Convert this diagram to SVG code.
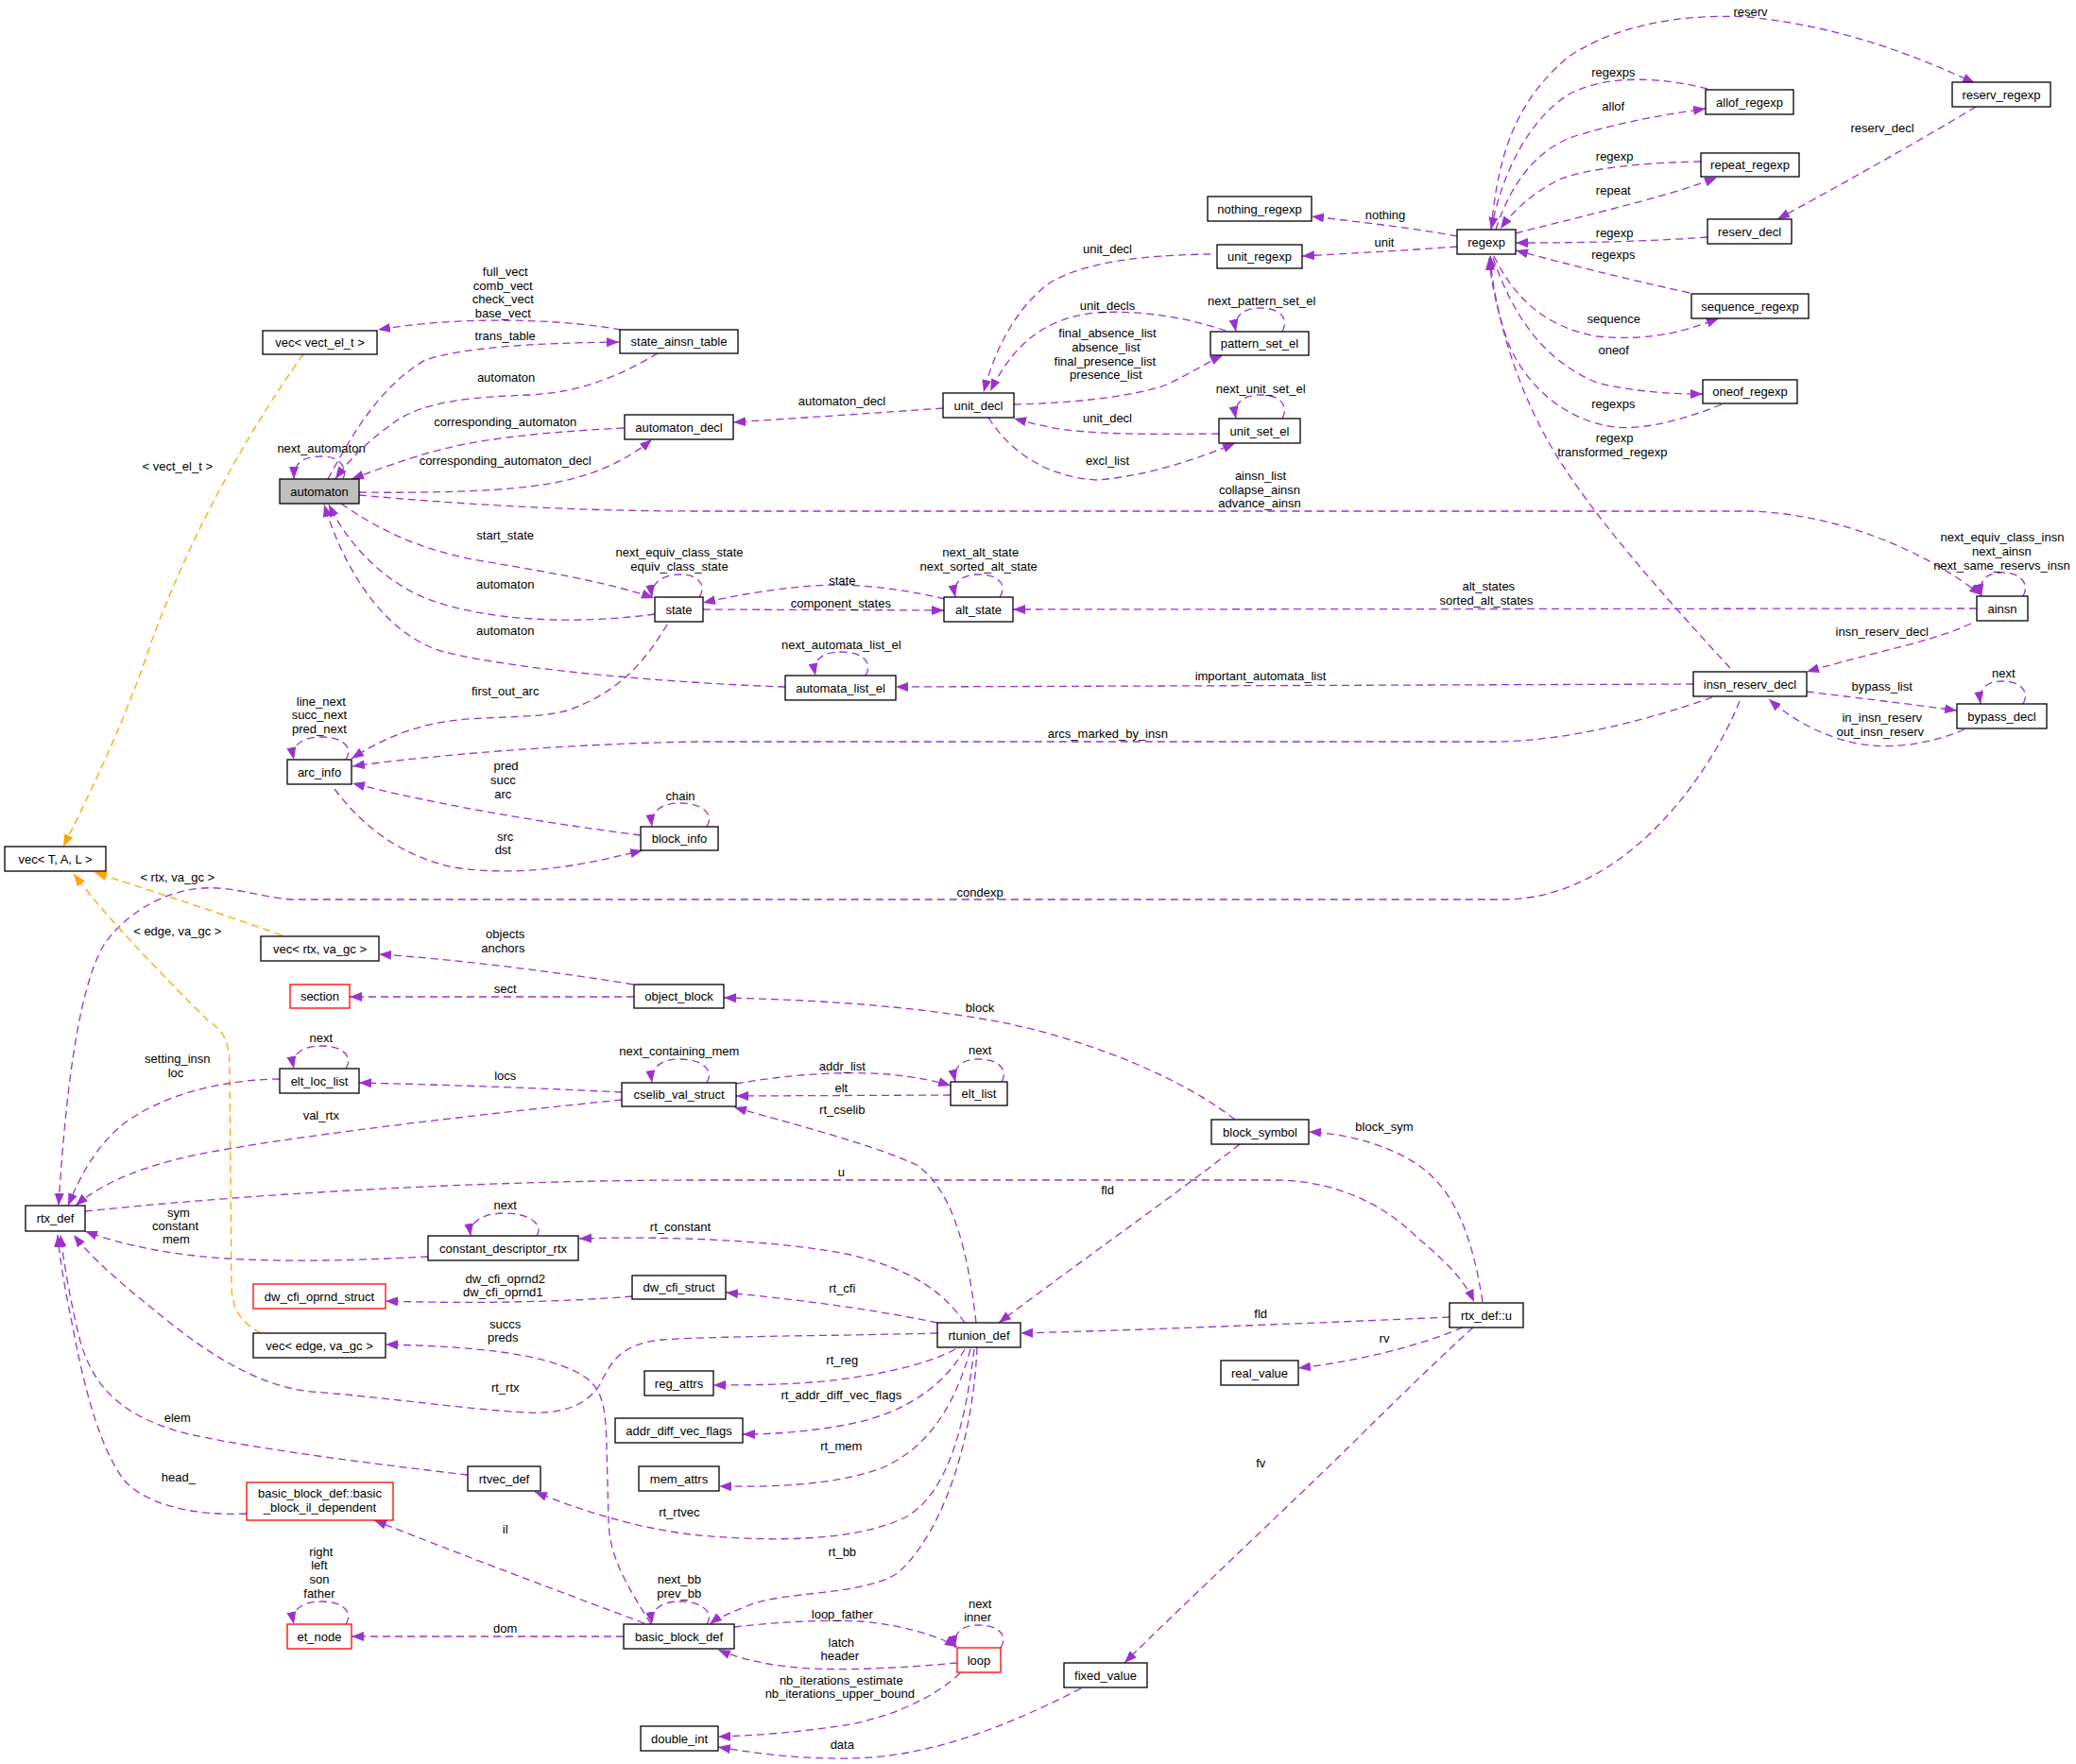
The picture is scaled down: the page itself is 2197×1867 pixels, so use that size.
<svg xmlns="http://www.w3.org/2000/svg" width="2197" height="1867" viewBox="0 0 2197 1867">
<defs>
<marker id="ap" markerWidth="14" markerHeight="11" refX="13" refY="5" orient="auto" markerUnits="userSpaceOnUse"><path d="M0,0 L13,5 L0,10 z" fill="#9a32cd"/></marker>
<marker id="ao" markerWidth="14" markerHeight="11" refX="13" refY="5" orient="auto" markerUnits="userSpaceOnUse"><path d="M0,0 L13,5 L0,10 z" fill="#ffa500"/></marker>
</defs>
<style>
text{font-family:"Liberation Sans",Arial,sans-serif;font-size:13px;fill:#000;text-anchor:middle}
.n rect{fill:#fff;stroke:#000;stroke-width:1.3}
.r rect{stroke:#ff0000}
.g rect{fill:#bfbfbf}
.e path{fill:none;stroke:#9a32cd;stroke-width:1.3;stroke-dasharray:8,5;marker-end:url(#ap)}
.e path.o{stroke:#ffa500;marker-end:url(#ao)}
</style>
<rect width="2197" height="1867" fill="#fff"/>
<g id="edges" class="e">
<path d="M657,349 C610,340 500,332 400,349"/>
<path d="M347,507 C370,465 400,410 450,381 C490,368 560,363 655,362"/>
<path d="M696,374 C660,395 620,415 560,418 C500,420 450,425 420,445 C395,462 370,485 355,507"/>
<path d="M660,453 C600,456 520,462 470,475 C430,485 400,497 372,507"/>
<path d="M380,521 C450,522 520,520 560,515 C620,508 660,490 690,465"/>
<path d="M363,507 C368,497 362,483 340,483 C320,483 311,490 311,507"/>
<path d="M998,432 C930,437 850,442 776,447"/>
<path d="M380,524 C480,533 600,541 740,541 L1855,541 C1950,545 2040,585 2097,630"/>
<path d="M361,533 C400,560 440,580 500,592 C570,604 640,615 692,633"/>
<path d="M693,650 C620,660 520,660 450,633 C400,612 365,570 348,534"/>
<path d="M831,727 C740,724 560,712 470,690 C400,670 360,590 343,534"/>
<path d="M706,661 C680,705 650,735 600,752 C560,763 500,755 450,768 C420,776 395,788 372,803"/>
<path d="M740,632 C748,620 740,608 720,608 C700,608 688,618 690,632"/>
<path d="M1000,634 C950,622 900,617 860,620 C810,624 770,632 744,638"/>
<path d="M744,645 L999,646"/>
<path d="M1058,632 C1066,620 1058,608 1036,608 C1016,608 1008,618 1011,632"/>
<path d="M2092,644 L1072,645"/>
<path d="M2141,631 C2148,619 2140,606 2119,606 C2100,606 2094,616 2097,631"/>
<path d="M2086,660 C2060,672 2030,680 1990,690 C1960,698 1935,704 1912,711"/>
<path d="M1792,724 L948,727"/>
<path d="M916,715 C924,702 914,690 890,690 C868,690 860,700 863,715"/>
<path d="M1812,738 C1750,760 1660,785 1580,785 L740,785 C600,787 450,800 373,811"/>
<path d="M1831,707 C1760,630 1680,540 1640,470 C1600,400 1580,320 1577,270"/>
<path d="M1912,732 C1960,738 2020,745 2071,752"/>
<path d="M2079,772 C2050,785 2010,792 1980,789 C1940,785 1900,765 1872,740"/>
<path d="M2141,745 C2148,733 2140,721 2119,721 C2100,721 2094,731 2096,745"/>
<path d="M1841,742 C1810,820 1720,950 1593,952 L307,952 C270,948 245,938 215,940 C170,943 130,970 110,1000 C80,1050 68,1180 62,1276"/>
<path d="M678,884 C600,874 480,856 373,829"/>
<path d="M354,835 C380,870 420,905 480,918 C560,930 630,912 680,900"/>
<path d="M366,804 C374,792 364,780 340,780 C318,780 308,790 311,804"/>
<path d="M748,875 C756,862 744,850 720,850 C698,850 688,860 690,875"/>
<path class="o" d="M321,375 C260,460 200,570 160,680 C130,770 90,850 67,896"/>
<path class="o" d="M298,990 C230,965 150,940 100,923"/>
<path class="o" d="M276,1411 C255,1400 245,1385 245,1360 L243,1130 C243,1100 235,1090 220,1080 C180,1040 120,980 78,925"/>
<path d="M670,1042 C600,1030 480,1015 401,1010"/>
<path d="M671,1055 L370,1055"/>
<path d="M1307,1185 C1250,1140 1150,1100 1060,1082 C960,1063 850,1058 766,1056"/>
<path d="M658,1156 C580,1152 470,1148 380,1146"/>
<path d="M366,1131 C374,1119 364,1107 340,1107 C318,1107 308,1117 311,1131"/>
<path d="M296,1142 C230,1143 170,1160 130,1190 C100,1215 85,1245 72,1276"/>
<path d="M658,1164 C520,1178 330,1200 230,1218 C160,1230 110,1250 80,1276"/>
<path d="M748,1146 C756,1133 744,1121 719,1121 C698,1121 688,1131 690,1146"/>
<path d="M779,1147 C830,1138 890,1133 940,1137 C970,1140 990,1144 1006,1149"/>
<path d="M1006,1159 L779,1160"/>
<path d="M1060,1145 C1067,1133 1058,1121 1036,1121 C1016,1121 1008,1131 1011,1145"/>
<path d="M1033,1400 C1025,1330 1010,1260 970,1233 C920,1210 840,1190 777,1172"/>
<path d="M1312,1211 C1250,1260 1150,1330 1057,1400"/>
<path d="M1569,1378 C1560,1320 1545,1270 1510,1240 C1480,1215 1430,1200 1385,1198"/>
<path d="M90,1282 C300,1260 550,1249 740,1249 L1348,1249 C1420,1249 1470,1280 1500,1310 C1530,1335 1550,1355 1560,1378"/>
<path d="M1534,1394 C1400,1400 1200,1408 1080,1411"/>
<path d="M1548,1405 C1500,1425 1440,1440 1374,1448"/>
<path d="M1559,1405 C1520,1440 1480,1480 1450,1509 C1400,1560 1250,1700 1190,1760"/>
<path d="M1144,1787 C1060,1830 980,1860 900,1861 C850,1862 800,1856 760,1849"/>
<path d="M1016,1771 C990,1795 950,1815 900,1825 C850,1833 800,1837 760,1838"/>
<path d="M1013,1760 C960,1765 900,1768 860,1766 C820,1764 785,1757 760,1746"/>
<path d="M777,1722 C820,1717 870,1714 910,1716 C950,1719 990,1730 1013,1743"/>
<path d="M1059,1744 C1067,1732 1058,1720 1036,1720 C1016,1720 1008,1730 1011,1744"/>
<path d="M1034,1426 C1030,1520 1000,1620 950,1665 C910,1690 830,1683 790,1700 C775,1706 760,1712 751,1719"/>
<path d="M748,1719 C756,1707 744,1695 719,1695 C698,1695 688,1705 690,1719"/>
<path d="M689,1719 C665,1680 645,1650 644,1610 L642,1530 C641,1480 635,1465 610,1452 C570,1432 500,1425 408,1423"/>
<path d="M992,1411 C880,1414 760,1414 700,1418 C655,1422 645,1445 635,1465 C620,1490 590,1497 555,1495 C480,1490 400,1478 330,1473 C280,1468 230,1440 180,1400 C130,1360 100,1335 78,1307"/>
<path d="M1021,1400 C1000,1370 970,1345 900,1328 C820,1312 700,1308 613,1311"/>
<path d="M453,1330 C380,1334 300,1336 240,1332 C180,1328 130,1318 90,1303"/>
<path d="M568,1308 C576,1296 560,1284 534,1284 C510,1284 496,1294 498,1308"/>
<path d="M669,1372 C600,1378 500,1380 408,1377"/>
<path d="M992,1400 C920,1385 840,1375 768,1368"/>
<path d="M1011,1428 C980,1445 920,1458 860,1463 C820,1466 780,1466 755,1466"/>
<path d="M1021,1428 C1000,1465 960,1495 900,1507 C860,1515 820,1518 786,1518"/>
<path d="M1027,1428 C1010,1490 980,1535 930,1555 C880,1572 820,1574 761,1573"/>
<path d="M1031,1428 C1020,1520 1000,1580 960,1605 C900,1635 800,1630 740,1625 C690,1620 630,1605 566,1579"/>
<path d="M495,1561 C400,1550 280,1535 200,1518 C130,1500 100,1470 85,1420 C75,1380 68,1340 64,1307"/>
<path d="M261,1602 C200,1605 150,1590 130,1565 C105,1530 90,1470 80,1420 C70,1370 64,1340 61,1307"/>
<path d="M682,1718 C620,1695 500,1650 396,1609"/>
<path d="M660,1732 L372,1732"/>
<path d="M366,1719 C374,1707 364,1695 340,1695 C318,1695 308,1705 311,1719"/>
<path d="M1542,250 C1500,242 1440,235 1388,229"/>
<path d="M1542,261 C1490,265 1430,268 1378,271"/>
<path d="M1281,269 C1220,270 1150,275 1110,300 C1070,330 1050,380 1041,415"/>
<path d="M1297,350 C1250,334 1200,328 1160,331 C1100,337 1070,370 1048,414"/>
<path d="M1073,428 C1130,427 1200,420 1235,407 C1260,395 1275,385 1294,376"/>
<path d="M1357,351 C1364,338 1356,326 1334,326 C1314,326 1305,336 1308,351"/>
<path d="M1290,459 C1220,460 1150,460 1110,452 C1095,449 1085,446 1073,443"/>
<path d="M1046,442 C1070,480 1110,505 1160,508 C1210,505 1270,485 1307,469"/>
<path d="M1357,443 C1364,430 1356,418 1334,418 C1314,418 1305,428 1308,443"/>
<path d="M1578,243 C1585,170 1600,110 1660,60 C1720,20 1800,15 1850,18 C1950,28 2030,60 2090,88"/>
<path d="M1807,94 C1760,82 1700,78 1660,100 C1620,125 1590,180 1578,243"/>
<path d="M1583,243 C1600,190 1630,155 1670,143 C1720,128 1770,120 1805,115"/>
<path d="M1800,171 C1740,172 1680,178 1650,190 C1620,205 1600,225 1588,242"/>
<path d="M1604,247 C1660,232 1760,210 1817,188"/>
<path d="M2091,113 C2030,150 1940,200 1881,232"/>
<path d="M1807,251 C1740,256 1670,257 1604,257"/>
<path d="M1788,310 C1720,295 1660,280 1604,265"/>
<path d="M1581,271 C1600,310 1630,345 1690,356 C1750,362 1790,348 1819,337"/>
<path d="M1580,273 C1600,330 1630,380 1690,405 C1730,415 1770,417 1802,417"/>
<path d="M1822,428 C1780,445 1740,455 1710,452 C1650,445 1610,400 1595,360 C1585,330 1578,300 1576,273"/>
</g>
<g id="edge-labels">
<text x="534.7" y="292">full_vect</text><text x="532.3" y="307">comb_vect</text><text x="532.3" y="321">check_vect</text><text x="532.3" y="336">base_vect</text>
<text x="534.7" y="360">trans_table</text>
<text x="535.6" y="404">automaton</text>
<text x="534.7" y="451">corresponding_automaton</text>
<text x="534.7" y="492">corresponding_automaton_decl</text>
<text x="340" y="479">next_automaton</text>
<text x="891" y="429">automaton_decl</text>
<text x="1334" y="508">ainsn_list</text><text x="1333" y="522.5">collapse_ainsn</text><text x="1333" y="537">advance_ainsn</text>
<text x="534.7" y="570.5">start_state</text>
<text x="534.7" y="623">automaton</text>
<text x="534.7" y="672">automaton</text>
<text x="534.7" y="736">first_out_arc</text>
<text x="719" y="589">next_equiv_class_state</text><text x="719" y="604">equiv_class_state</text>
<text x="891.3" y="619">state</text>
<text x="889.8" y="643">component_states</text>
<text x="1037.7" y="589">next_alt_state</text><text x="1035.7" y="604">next_sorted_alt_state</text>
<text x="1575.3" y="625">alt_states</text><text x="1573" y="640">sorted_alt_states</text>
<text x="2119" y="573">next_equiv_class_insn</text><text x="2118.4" y="588">next_ainsn</text><text x="2118.4" y="603">next_same_reservs_insn</text>
<text x="1991.7" y="673">insn_reserv_decl</text>
<text x="1334" y="720">important_automata_list</text>
<text x="890.3" y="687">next_automata_list_el</text>
<text x="1172.4" y="781">arcs_marked_by_insn</text>
<text x="1708.7" y="468">regexp</text><text x="1706.3" y="483">transformed_regexp</text>
<text x="1991.7" y="731">bypass_list</text>
<text x="1991.7" y="764">in_insn_reserv</text><text x="1989.8" y="779">out_insn_reserv</text>
<text x="2120.3" y="717">next</text>
<text x="1037.2" y="949">condexp</text>
<text x="535.6" y="815">pred</text><text x="532.3" y="829.5">succ</text><text x="532.3" y="844.5">arc</text>
<text x="534.7" y="889.5">src</text><text x="532.3" y="904">dst</text>
<text x="339.8" y="747">line_next</text><text x="337.9" y="761">succ_next</text><text x="337.9" y="776">pred_next</text>
<text x="720" y="847">chain</text>
<text x="187.8" y="497.5">&lt; vect_el_t &gt;</text>
<text x="187.8" y="932.5">&lt; rtx, va_gc &gt;</text>
<text x="187.8" y="990">&lt; edge, va_gc &gt;</text>
<text x="534.7" y="993">objects</text><text x="532.3" y="1008">anchors</text>
<text x="534.7" y="1051">sect</text>
<text x="1037" y="1071">block</text>
<text x="534.7" y="1143">locs</text>
<text x="339.8" y="1103">next</text>
<text x="187.8" y="1125">setting_insn</text><text x="186" y="1139.5">loc</text>
<text x="339.8" y="1184.5">val_rtx</text>
<text x="718.8" y="1117">next_containing_mem</text>
<text x="891.3" y="1132.5">addr_list</text>
<text x="890.3" y="1156">elt</text>
<text x="1037.2" y="1116">next</text>
<text x="891.3" y="1179">rt_cselib</text>
<text x="1172" y="1263.5">fld</text>
<text x="1465" y="1197">block_sym</text>
<text x="890.3" y="1245">u</text>
<text x="1334.2" y="1395">fld</text>
<text x="1465" y="1421">rv</text>
<text x="1334.2" y="1552.5">fv</text>
<text x="891.3" y="1851">data</text>
<text x="890.3" y="1783">nb_iterations_estimate</text><text x="888.8" y="1797">nb_iterations_upper_bound</text>
<text x="890.3" y="1743">latch</text><text x="888.8" y="1757">header</text>
<text x="891.3" y="1713">loop_father</text>
<text x="1037.2" y="1701.5">next</text><text x="1034.7" y="1716">inner</text>
<text x="891.3" y="1647">rt_bb</text>
<text x="718.8" y="1676">next_bb</text><text x="718.8" y="1690.5">prev_bb</text>
<text x="534.7" y="1405.5">succs</text><text x="532.3" y="1420">preds</text>
<text x="534.7" y="1473">rt_rtx</text>
<text x="720" y="1302.5">rt_constant</text>
<text x="188.8" y="1287.5">sym</text><text x="185.5" y="1301.5">constant</text><text x="186.4" y="1316">mem</text>
<text x="534.7" y="1280">next</text>
<text x="534.7" y="1357.5">dw_cfi_oprnd2</text><text x="532.3" y="1372">dw_cfi_oprnd1</text>
<text x="891.3" y="1367.5">rt_cfi</text>
<text x="891.3" y="1443.5">rt_reg</text>
<text x="890.3" y="1481">rt_addr_diff_vec_flags</text>
<text x="890.3" y="1535">rt_mem</text>
<text x="718.8" y="1604.5">rt_rtvec</text>
<text x="187.8" y="1505">elem</text>
<text x="188.8" y="1568">head_</text>
<text x="534.7" y="1622.5">il</text>
<text x="534.7" y="1727.5">dom</text>
<text x="339.8" y="1647">right</text><text x="337.9" y="1660.5">left</text><text x="337.9" y="1676">son</text><text x="337.9" y="1690.5">father</text>
<text x="1466" y="232">nothing</text>
<text x="1465" y="260.5">unit</text>
<text x="1172" y="268">unit_decl</text>
<text x="1172" y="328">unit_decls</text>
<text x="1172" y="357">final_absence_list</text><text x="1170.4" y="372">absence_list</text><text x="1169.4" y="387">final_presence_list</text><text x="1170.4" y="401">presence_list</text>
<text x="1335.2" y="323">next_pattern_set_el</text>
<text x="1172" y="447">unit_decl</text>
<text x="1172" y="492">excl_list</text>
<text x="1334.2" y="416">next_unit_set_el</text>
<text x="1852.5" y="16.5">reserv</text>
<text x="1707.3" y="80.5">regexps</text>
<text x="1707.3" y="117">allof</text>
<text x="1708.7" y="169.5">regexp</text>
<text x="1707.3" y="205.5">repeat</text>
<text x="1992.1" y="140">reserv_decl</text>
<text x="1708.7" y="251">regexp</text>
<text x="1707.3" y="273.5">regexps</text>
<text x="1707.7" y="341.5">sequence</text>
<text x="1707.7" y="375">oneof</text>
<text x="1707.3" y="431.5">regexps</text>
</g>
<g id="vec_vect_el_t" class="n"><rect x="278" y="350" width="121" height="25"/><text x="338.5" y="367">vec&lt; vect_el_t &gt;</text></g>
<g id="state_ainsn_table" class="n"><rect x="656" y="349" width="125" height="25"/><text x="718.5" y="366">state_ainsn_table</text></g>
<g id="automaton" class="n g"><rect x="296" y="507" width="84" height="26"/><text x="338" y="524.5">automaton</text></g>
<g id="automaton_decl" class="n"><rect x="661" y="439" width="115" height="26"/><text x="718.5" y="456.5">automaton_decl</text></g>
<g id="nothing_regexp" class="n"><rect x="1278" y="208" width="110" height="26"/><text x="1333" y="225.5">nothing_regexp</text></g>
<g id="unit_regexp" class="n"><rect x="1288" y="259" width="90" height="25"/><text x="1333" y="276">unit_regexp</text></g>
<g id="pattern_set_el" class="n"><rect x="1281" y="351" width="104" height="25"/><text x="1333" y="368">pattern_set_el</text></g>
<g id="unit_decl" class="n"><rect x="998" y="416" width="75" height="26"/><text x="1035.5" y="433.5">unit_decl</text></g>
<g id="unit_set_el" class="n"><rect x="1290" y="443" width="86" height="26"/><text x="1333" y="460.5">unit_set_el</text></g>
<g id="regexp" class="n"><rect x="1542" y="243" width="62" height="26"/><text x="1573" y="260.5">regexp</text></g>
<g id="allof_regexp" class="n"><rect x="1805" y="95" width="93" height="26"/><text x="1851.5" y="112.5">allof_regexp</text></g>
<g id="reserv_regexp" class="n"><rect x="2066" y="87" width="104" height="26"/><text x="2118" y="104.5">reserv_regexp</text></g>
<g id="repeat_regexp" class="n"><rect x="1800" y="162" width="104" height="25"/><text x="1852" y="179">repeat_regexp</text></g>
<g id="reserv_decl" class="n"><rect x="1807" y="232" width="89" height="26"/><text x="1851.5" y="249.5">reserv_decl</text></g>
<g id="sequence_regexp" class="n"><rect x="1790" y="311" width="124" height="26"/><text x="1852" y="328.5">sequence_regexp</text></g>
<g id="oneof_regexp" class="n"><rect x="1802" y="402" width="100" height="25"/><text x="1852" y="419">oneof_regexp</text></g>
<g id="state" class="n"><rect x="693" y="632" width="51" height="26"/><text x="718.5" y="649.5">state</text></g>
<g id="alt_state" class="n"><rect x="999" y="632" width="73" height="26"/><text x="1035.5" y="649.5">alt_state</text></g>
<g id="automata_list_el" class="n"><rect x="831" y="715" width="117" height="26"/><text x="889.5" y="732.5">automata_list_el</text></g>
<g id="ainsn" class="n"><rect x="2092" y="631" width="54" height="26"/><text x="2119" y="648.5">ainsn</text></g>
<g id="insn_reserv_decl" class="n"><rect x="1792" y="711" width="120" height="26"/><text x="1852" y="728.5">insn_reserv_decl</text></g>
<g id="bypass_decl" class="n"><rect x="2071" y="745" width="95" height="26"/><text x="2118.5" y="762.5">bypass_decl</text></g>
<g id="arc_info" class="n"><rect x="304" y="804" width="68" height="26"/><text x="338" y="821.5">arc_info</text></g>
<g id="block_info" class="n"><rect x="678" y="875" width="82" height="25"/><text x="719" y="892">block_info</text></g>
<g id="vec_T_A_L" class="n"><rect x="5" y="896" width="107" height="26"/><text x="58.5" y="913.5">vec&lt; T, A, L &gt;</text></g>
<g id="vec_rtx_va_gc" class="n"><rect x="276" y="991" width="125" height="26"/><text x="338.5" y="1008.5">vec&lt; rtx, va_gc &gt;</text></g>
<g id="section" class="n r"><rect x="307" y="1042" width="63" height="25"/><text x="338.5" y="1059">section</text></g>
<g id="object_block" class="n"><rect x="671" y="1042" width="95" height="25"/><text x="718.5" y="1059">object_block</text></g>
<g id="elt_loc_list" class="n"><rect x="296" y="1131" width="84" height="26"/><text x="338" y="1148.5">elt_loc_list</text></g>
<g id="cselib_val_struct" class="n"><rect x="658" y="1146" width="121" height="25"/><text x="718.5" y="1163">cselib_val_struct</text></g>
<g id="elt_list" class="n"><rect x="1006" y="1145" width="60" height="25"/><text x="1036" y="1162">elt_list</text></g>
<g id="block_symbol" class="n"><rect x="1282" y="1185" width="103" height="26"/><text x="1333.5" y="1202.5">block_symbol</text></g>
<g id="rtx_def" class="n"><rect x="27" y="1276" width="63" height="27"/><text x="58.5" y="1294">rtx_def</text></g>
<g id="constant_descriptor_rtx" class="n"><rect x="453" y="1308" width="159" height="26"/><text x="532.5" y="1325.5">constant_descriptor_rtx</text></g>
<g id="dw_cfi_oprnd_struct" class="n r"><rect x="268" y="1359" width="140" height="26"/><text x="338" y="1376.5">dw_cfi_oprnd_struct</text></g>
<g id="dw_cfi_struct" class="n"><rect x="669" y="1350" width="99" height="25"/><text x="718.5" y="1367">dw_cfi_struct</text></g>
<g id="vec_edge_va_gc" class="n"><rect x="268" y="1411" width="140" height="26"/><text x="338" y="1428.5">vec&lt; edge, va_gc &gt;</text></g>
<g id="rtunion_def" class="n"><rect x="992" y="1400" width="88" height="26"/><text x="1036" y="1417.5">rtunion_def</text></g>
<g id="rtx_def_u" class="n"><rect x="1534" y="1379" width="78" height="26"/><text x="1573" y="1396.5">rtx_def::u</text></g>
<g id="real_value" class="n"><rect x="1292" y="1440" width="82" height="26"/><text x="1333" y="1457.5">real_value</text></g>
<g id="reg_attrs" class="n"><rect x="682" y="1451" width="73" height="26"/><text x="718.5" y="1468.5">reg_attrs</text></g>
<g id="addr_diff_vec_flags" class="n"><rect x="651" y="1501" width="135" height="26"/><text x="718.5" y="1518.5">addr_diff_vec_flags</text></g>
<g id="mem_attrs" class="n"><rect x="676" y="1552" width="85" height="26"/><text x="718.5" y="1569.5">mem_attrs</text></g>
<g id="rtvec_def" class="n"><rect x="495" y="1552" width="77" height="26"/><text x="533.5" y="1569.5">rtvec_def</text></g>
<g id="basic_block_il_dependent" class="n r"><rect x="261" y="1569" width="155" height="40"/><text x="338.5" y="1584.5">basic_block_def::basic</text><text x="338.5" y="1599.5">_block_il_dependent</text></g>
<g id="et_node" class="n r"><rect x="304" y="1719" width="68" height="26"/><text x="338" y="1736.5">et_node</text></g>
<g id="basic_block_def" class="n"><rect x="660" y="1719" width="117" height="26"/><text x="718.5" y="1736.5">basic_block_def</text></g>
<g id="loop" class="n r"><rect x="1013" y="1744" width="46" height="26"/><text x="1036" y="1761.5">loop</text></g>
<g id="fixed_value" class="n"><rect x="1126" y="1760" width="88" height="26"/><text x="1170" y="1777.5">fixed_value</text></g>
<g id="double_int" class="n"><rect x="678" y="1827" width="82" height="26"/><text x="719" y="1844.5">double_int</text></g>
</svg>
